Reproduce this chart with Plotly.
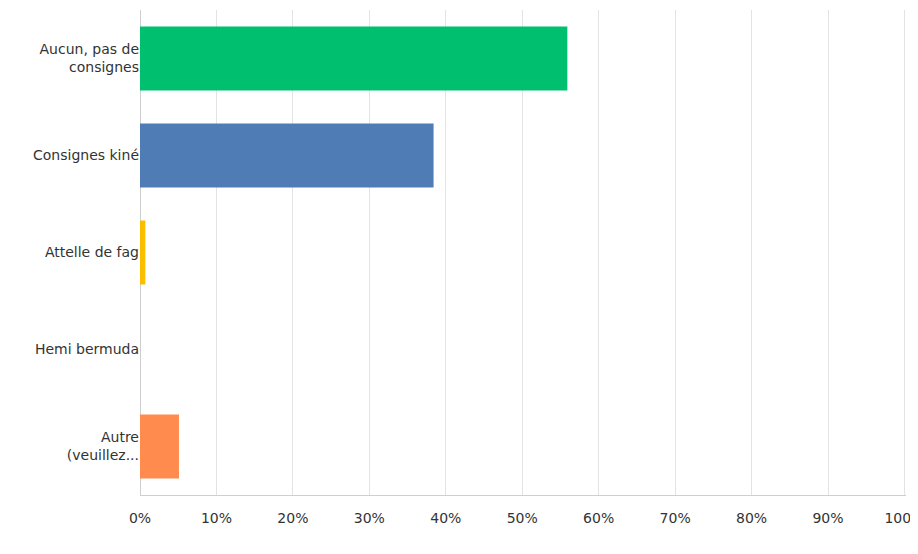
import plotly.graph_objects as go

categories = ["Aucun, pas de<br>consignes", "Consignes kiné", "Attelle de fag", "Hemi bermuda", "Autre<br>(veuillez..."]
values = [55.9, 38.4, 0.7, 0.0, 5.1]
colors = ["#00BF6F", "#507CB6", "#F9BE00", "#6BC8CD", "#FF8B4F"]
tick_vals = [0, 10, 20, 30, 40, 50, 60, 70, 80, 90, 100]
tick_text = ["0%", "10%", "20%", "30%", "40%", "50%", "60%", "70%", "80%", "90%", "100%"]

fig = go.Figure(go.Bar(
    x=values, y=categories, orientation="h",
    marker=dict(color=colors, line=dict(width=0)),
    hoverinfo="x+y",
))
fig.update_layout(
    width=918, height=554,
    margin=dict(l=132, r=20, t=2, b=67),
    plot_bgcolor="white", paper_bgcolor="white",
    bargap=0.34,
    showlegend=False,
    font=dict(family="DejaVu Sans", size=14, color="#333"),
    xaxis=dict(range=[0, 100.2], tickvals=tick_vals, ticktext=tick_text,
               showgrid=True, gridcolor="#e3e3e3", gridwidth=1,
               zeroline=True, zerolinecolor="#cfcfcf", zerolinewidth=1,
               showline=True, linecolor="#cfcfcf", ticks="", ticklabelstandoff=10),
    yaxis=dict(autorange="reversed", showgrid=False, ticks="",
               showline=False, automargin=False),
)
fig.write_html("out.html")
